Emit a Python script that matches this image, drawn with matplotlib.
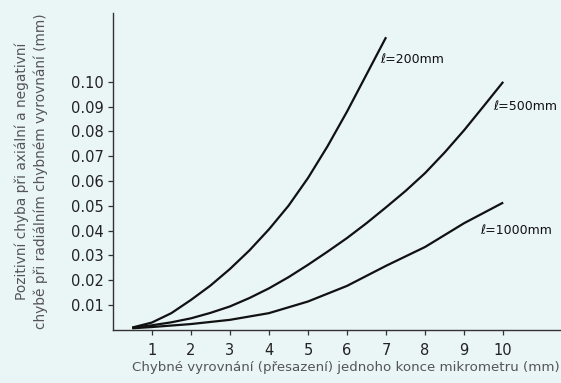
import numpy as np
import matplotlib
matplotlib.use("Agg")
import matplotlib.pyplot as plt

# hodnoty
x200 = [0.5, 1, 1.5, 2, 2.5, 3, 3.5, 4, 4.5, 5, 5.5, 6, 6.5, 7]
y200 = [0.0009, 0.0029, 0.0067, 0.012, 0.0178, 0.0245, 0.032, 0.0405, 0.050,
        0.0612, 0.074, 0.088, 0.103, 0.118]

x500 = [0.5, 1, 1.5, 2, 2.5, 3, 3.5, 4, 4.5, 5, 5.5, 6, 6.5, 7, 7.5, 8, 8.5, 9, 9.5, 10]
y500 = [0.0008, 0.0018, 0.003, 0.0046, 0.0068, 0.0094, 0.0128, 0.0167, 0.0212,
        0.0262, 0.0315, 0.037, 0.043, 0.0494, 0.056, 0.0632, 0.0715, 0.0805, 0.0902, 0.100]

x1000 = [0.5, 1, 2, 3, 4, 5, 6, 7, 8, 9, 10]
y1000 = [0.0006, 0.0011, 0.0023, 0.004, 0.0067, 0.0114, 0.0177, 0.0258, 0.0334, 0.043, 0.0513]

labels = ["\u2113=200mm", "\u2113=500mm", "\u2113=1000mm"]
xticks = [1, 2, 3, 4, 5, 6, 7, 8, 9, 10]
yticks = [0.01, 0.02, 0.03, 0.04, 0.05, 0.06, 0.07, 0.08, 0.09, 0.10]

bg = "#eaf5f6"
fig = plt.figure(figsize=(5.61, 3.83), dpi=100, facecolor=bg)
ax = fig.add_axes([0.201, 0.139, 0.799, 0.828], facecolor=bg)

for xs, ys in [(x200, y200), (x500, y500), (x1000, y1000)]:
    ax.plot(xs, ys, color="#111111", lw=1.6, solid_capstyle="butt",
            solid_joinstyle="round")

ax.set_xlim(0, 11.48)
ax.set_ylim(0, 0.1279)
ax.set_xticks(xticks)
ax.set_xticklabels([str(t) for t in xticks])
ax.set_yticks(yticks)
ax.set_yticklabels(["%.2f" % t for t in yticks])

for s in ["top", "right"]:
    ax.spines[s].set_visible(False)
for s in ["left", "bottom"]:
    ax.spines[s].set_linewidth(1.0)
    ax.spines[s].set_color("#333333")

ax.tick_params(direction="out", length=3.5, width=0.9, color="#333333",
               labelsize=10.5, labelcolor="#222222")
ax.tick_params(axis="x", pad=6)
ax.tick_params(axis="y", pad=3)

# popisky krivek
ax.text(6.85, 0.1088, labels[0], fontsize=9, color="#111111", va="center")
ax.text(9.75, 0.0902, labels[1], fontsize=9, color="#111111", va="center")
ax.text(9.42, 0.040, labels[2], fontsize=9, color="#111111", va="center")

ax.set_xlabel("Chybné vyrovnání (přesazení) jednoho konce mikrometru (mm)",
              fontsize=9.6, color="#555555")
ax.xaxis.set_label_coords(0.52, -0.098)
ax.set_ylabel("Pozitivní chyba při axiální a negativní\nchybě při radiálním chybném vyrovnání (mm)",
              fontsize=9.9, color="#555555", linespacing=1.4)
ax.yaxis.set_label_coords(-0.144, 0.50)

fig.savefig("out.png", dpi=100, facecolor=bg)
